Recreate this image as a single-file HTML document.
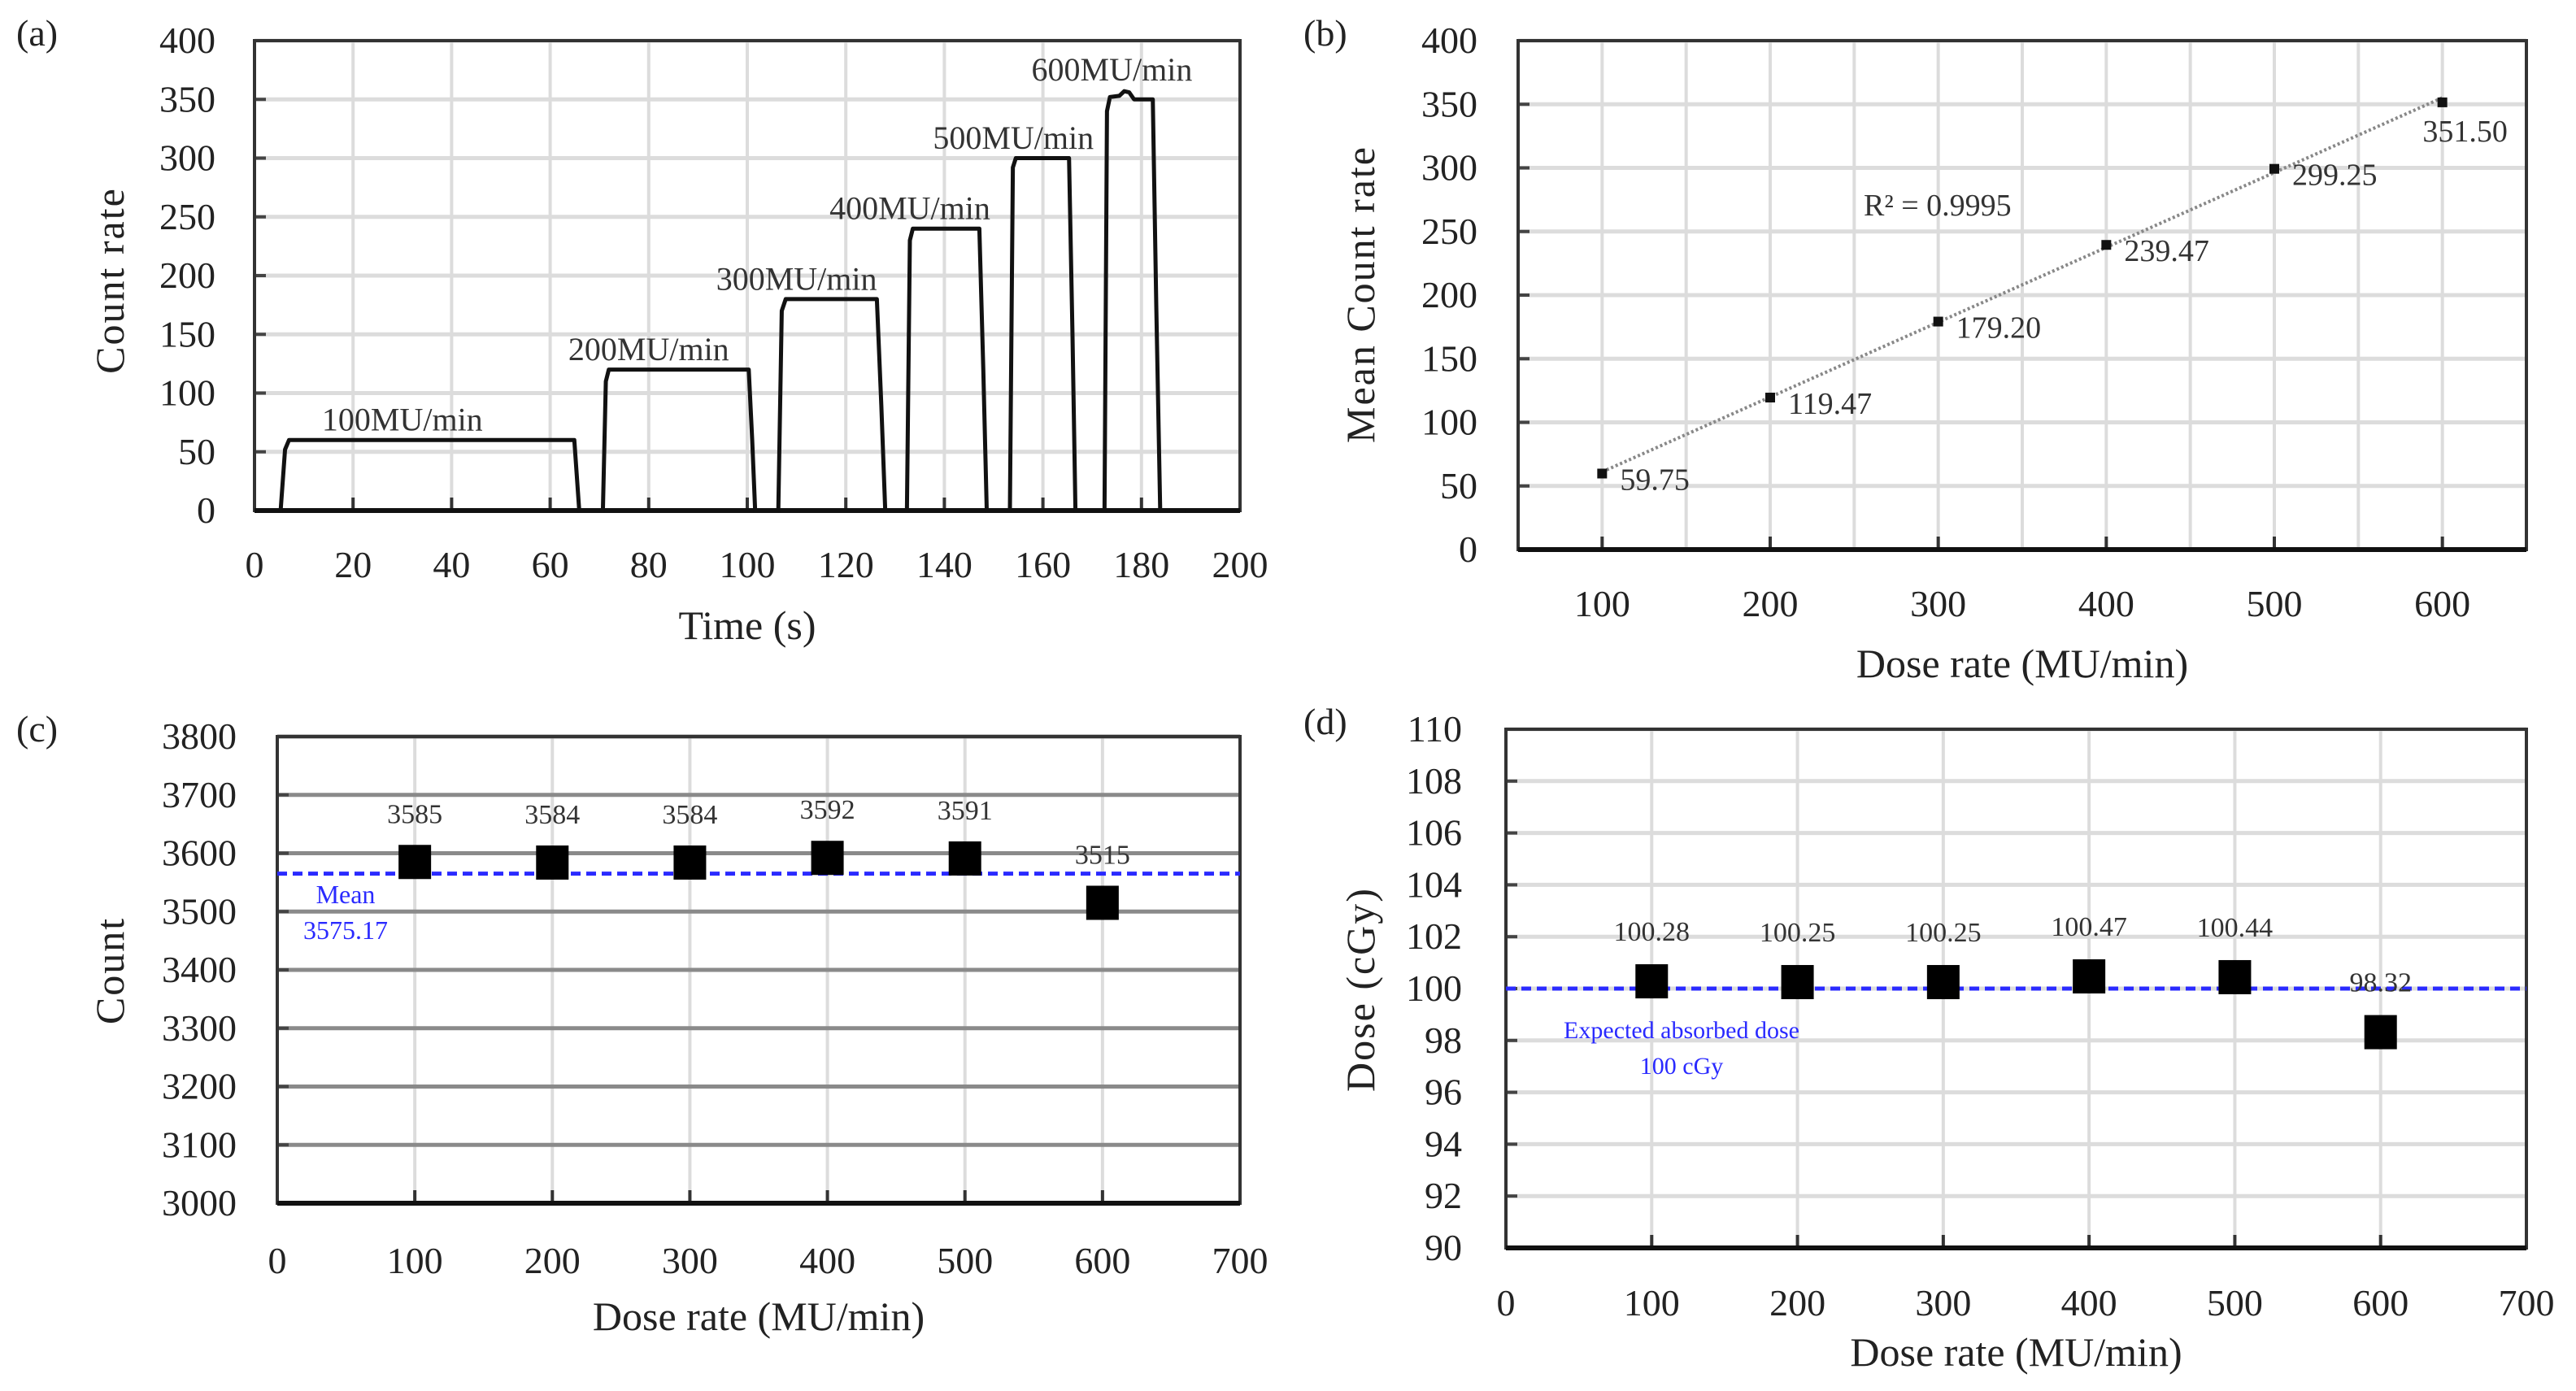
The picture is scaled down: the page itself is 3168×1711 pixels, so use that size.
<!DOCTYPE html>
<html><head><meta charset="utf-8">
<style>
html,body{margin:0;padding:0;background:#fff;}
svg{display:block;font-family:"Liberation Serif",serif;}
</style></head>
<body>
<svg id="fig" width="3168" height="1711" viewBox="0 0 3168 1711" xmlns="http://www.w3.org/2000/svg"></svg>
<script>
// ---- Panel (a) data ----
const aTime  = [0, 5.3, 6.2, 7.0, 64.9, 65.4, 65.9, 70.7, 71.3, 71.9, 100.3, 101.0, 101.6, 106.3, 107.0, 107.8, 126.3, 127.2, 128.0, 132.4, 133.0, 133.6, 147.1, 147.9, 148.6, 153.3, 153.9, 154.5, 165.3, 166.0, 166.6, 172.5, 173.0, 173.6, 175.5, 176.5, 177.5, 178.5, 182.3, 183.0, 183.8, 189];
const aCount = [0, 0, 52, 60, 60, 30, 0, 0, 110, 120, 120, 60, 0, 0, 170, 180, 180, 90, 0, 0, 230, 240, 240, 120, 0, 0, 292, 300, 300, 150, 0, 0, 340, 352, 353, 357, 356, 350, 350, 175, 0, 0];
const aLabels = ["100MU/min","200MU/min","300MU/min","400MU/min","500MU/min","600MU/min"];
const aLabelX = [30, 80, 110, 133, 154, 174];
const aLabelY = [68, 128, 188, 248, 308, 366];
const aXTicks = [0,20,40,60,80,100,120,140,160,180,200];
const aYTicks = [0,50,100,150,200,250,300,350,400];

// ---- Panel (b) data ----
const bDose = [100,200,300,400,500,600];
const bMean = [59.75,119.47,179.20,239.47,299.25,351.50];
const bLabels = ["59.75","119.47","179.20","239.47","299.25","351.50"];
const bXTicks = [100,200,300,400,500,600];
const bYTicks = [0,50,100,150,200,250,300,350,400];

// ---- Panel (c) data ----
const cDose = [100,200,300,400,500,600];
const cCount = [3585,3584,3584,3592,3591,3515];
const cMeanLine = [3565];
const cXTicks = [0,100,200,300,400,500,600,700];
const cYTicks = [3000,3100,3200,3300,3400,3500,3600,3700,3800];

// ---- Panel (d) data ----
const dDose = [100,200,300,400,500,600];
const dVal = [100.28,100.25,100.25,100.47,100.44,98.32];
const dLabels = ["100.28","100.25","100.25","100.47","100.44","98.32"];
const dExpected = [100];
const dXTicks = [0,100,200,300,400,500,600,700];
const dYTicks = [90,92,94,96,98,100,102,104,106,108,110];

const NS="http://www.w3.org/2000/svg";
const svg=document.getElementById('fig');
function mk(tag,attrs,parent,text){
  const e=document.createElementNS(NS,tag);
  for(const k in attrs) e.setAttribute(k,attrs[k]);
  if(text!==undefined) e.textContent=text;
  (parent||svg).appendChild(e);
  return e;
}
function scale(d0,d1,r0,r1){return v=>r0+(v-d0)/(d1-d0)*(r1-r0);}

function panel(o){
  const g=mk('g',{});
  
  
  const X=scale(o.xd[0],o.xd[1],o.L,o.R), Y=scale(o.yd[0],o.yd[1],o.B,o.T);
  o.vgrid.forEach(v=>{
    const l=mk('line',{x1:X(v),x2:X(v),y1:o.T,y2:o.B,stroke:'#dcdcdc','stroke-width':4},g);
    
    
  });
  o.yTicks.forEach(v=>{
    const l=mk('line',{x1:o.L,x2:o.R,y1:Y(v),y2:Y(v),stroke:o.hgridColor,'stroke-width':5},g);
    
    
    const t=mk('text',{x:o.L-o.ylabGap,y:Y(v)+15,'text-anchor':'end','font-size':46,fill:'#222'},g,String(v));
    
    
    const tk=mk('line',{x1:o.L,x2:o.L+14,y1:Y(v),y2:Y(v),stroke:'#444','stroke-width':4},g);
    
    
  });
  o.xTicks.forEach(v=>{
    const t=mk('text',{x:X(v),y:o.xlabY,'text-anchor':'middle','font-size':46,fill:'#222'},g,String(v));
    
    
    const tk=mk('line',{x1:X(v),x2:X(v),y1:o.B,y2:o.B-16,stroke:'#333','stroke-width':4},g);
    
    
  });
  const fr=mk('rect',{x:o.L,y:o.T,width:o.R-o.L,height:o.B-o.T,fill:'none',stroke:'#333','stroke-width':4},g);
  
  
  const bl=mk('line',{x1:o.L,x2:o.R,y1:o.B,y2:o.B,stroke:'#111','stroke-width':6},g);
  
  
  const xt=mk('text',{x:(o.L+o.R)/2,y:o.xtitleY,'text-anchor':'middle','font-size':50,fill:'#222'},g,o.xtitle);
  
  
  const yt=mk('text',{x:o.ytitleX,y:o.ytitleCY,'text-anchor':'middle','font-size':50,fill:'#222',transform:`rotate(-90 ${o.ytitleX} ${o.ytitleCY})`,'letter-spacing':2},g,o.ytitle);
  
  
  const pl=mk('text',{x:o.panelX,y:o.panelY,'font-size':46,fill:'#222'},g,o.panelLabel);
  
  
  return {g,X,Y};
}

// Panel a
(function(){
  const p=panel({name:'panel-a',L:313,R:1525,T:50,B:628,xd:[0,200],yd:[0,400],vgrid:aXTicks,xTicks:aXTicks,yTicks:aYTicks,
    hgridColor:'#dcdcdc',ylabGap:48,xlabY:710,xtitleY:786,xtitle:'Time (s)',ytitle:'Count rate',ytitleX:152,ytitleCY:345,
    panelX:20,panelY:56,panelLabel:'(a)'});
  const pts=aTime.map((t,i)=>p.X(t)+','+p.Y(aCount[i])).join(' ');
  const line=mk('polyline',{points:pts,fill:'none',stroke:'#111','stroke-width':5,'stroke-linejoin':'round'},p.g);
  
  
  aLabels.forEach((s,i)=>{
    const t=mk('text',{x:p.X(aLabelX[i]),y:p.Y(aLabelY[i]),'text-anchor':'middle','font-size':40,fill:'#333'},p.g,s);
    
    
  });
})();

// Panel b
(function(){
  const p=panel({name:'panel-b',L:1867,R:3107,T:50,B:676,xd:[50,650],yd:[0,400],vgrid:[50,100,150,200,250,300,350,400,450,500,550,600,650],xTicks:bXTicks,yTicks:bYTicks,
    hgridColor:'#dcdcdc',ylabGap:50,xlabY:758,xtitleY:833,xtitle:'Dose rate (MU/min)',ytitle:'Mean Count rate',ytitleX:1690,ytitleCY:362,
    panelX:1603,panelY:56,panelLabel:'(b)'});
  const n=bDose.length, mx=bDose.reduce((a,b)=>a+b)/n, my=bMean.reduce((a,b)=>a+b)/n;
  let sxy=0,sxx=0; bDose.forEach((x,i)=>{sxy+=(x-mx)*(bMean[i]-my);sxx+=(x-mx)*(x-mx);});
  const k=sxy/sxx, b0=my-k*mx;
  const tl=mk('line',{x1:p.X(bDose[0]),y1:p.Y(k*bDose[0]+b0),x2:p.X(bDose[n-1]),y2:p.Y(k*bDose[n-1]+b0),stroke:'#888','stroke-width':4,'stroke-dasharray':'3 3'},p.g);
  
  
  bDose.forEach((x,i)=>{
    const r=mk('rect',{x:p.X(x)-6,y:p.Y(bMean[i])-6,width:12,height:12,fill:'#111'},p.g);
    
    
    const t=mk('text',{x:p.X(x)+22,y:p.Y(bMean[i])+(i==5?48:20),'text-anchor':i==5?'middle':'start','font-size':38,fill:'#333'},p.g,bLabels[i]);
    if(i==5) t.setAttribute('x',p.X(x)+28);
    
    
  });
  const r2=mk('text',{x:2292,y:265,'font-size':38,fill:'#333'},p.g,'R² = 0.9995');
  
  
})();

// Panel c
(function(){
  const p=panel({name:'panel-c',L:341,R:1525,T:906,B:1480,xd:[0,700],yd:[3000,3800],vgrid:cXTicks,xTicks:cXTicks,yTicks:cYTicks,
    hgridColor:'#8a8a8a',ylabGap:50,xlabY:1566,xtitleY:1636,xtitle:'Dose rate (MU/min)',ytitle:'Count',ytitleX:152,ytitleCY:1194,
    panelX:20,panelY:912,panelLabel:'(c)'});
  const ml=mk('line',{x1:p.X(0),x2:p.X(700),y1:p.Y(cMeanLine[0]),y2:p.Y(cMeanLine[0]),stroke:'#2a2aff','stroke-width':5,'stroke-dasharray':'12 7'},p.g);
  
  
  cDose.forEach((x,i)=>{
    const r=mk('rect',{x:p.X(x)-20,y:p.Y(cCount[i])-21,width:40,height:42,fill:'#000'},p.g);
    
    
    const t=mk('text',{x:p.X(x),y:p.Y(cCount[i])-48,'text-anchor':'middle','font-size':34,fill:'#333'},p.g,String(cCount[i]));
    
    
  });
  const m1=mk('text',{x:425,y:1111,'text-anchor':'middle','font-size':32,fill:'#2a2aff'},p.g,'Mean');
  
  
  const m2=mk('text',{x:425,y:1155,'text-anchor':'middle','font-size':32,fill:'#2a2aff'},p.g,'3575.17');
  
  
})();

// Panel d
(function(){
  const p=panel({name:'panel-d',L:1852,R:3107,T:897,B:1535,xd:[0,700],yd:[90,110],vgrid:dXTicks,xTicks:dXTicks,yTicks:dYTicks,
    hgridColor:'#dcdcdc',ylabGap:54,xlabY:1618,xtitleY:1680,xtitle:'Dose rate (MU/min)',ytitle:'Dose (cGy)',ytitleX:1690,ytitleCY:1217,
    panelX:1603,panelY:903,panelLabel:'(d)'});
  const el=mk('line',{x1:p.X(0),x2:p.X(700),y1:p.Y(dExpected[0]),y2:p.Y(dExpected[0]),stroke:'#2a2aff','stroke-width':5,'stroke-dasharray':'12 7'},p.g);
  
  
  dDose.forEach((x,i)=>{
    const r=mk('rect',{x:p.X(x)-20,y:p.Y(dVal[i])-21,width:40,height:42,fill:'#000'},p.g);
    
    
    const t=mk('text',{x:p.X(x),y:p.Y(dVal[i])-50,'text-anchor':'middle','font-size':34,fill:'#333'},p.g,dLabels[i]);
    
    
  });
  const e1=mk('text',{x:2068,y:1277,'text-anchor':'middle','font-size':30,fill:'#2a2aff'},p.g,'Expected absorbed dose');
  
  
  const e2=mk('text',{x:2068,y:1321,'text-anchor':'middle','font-size':30,fill:'#2a2aff'},p.g,'100 cGy');
  
  
})();
</script>
</body></html>
